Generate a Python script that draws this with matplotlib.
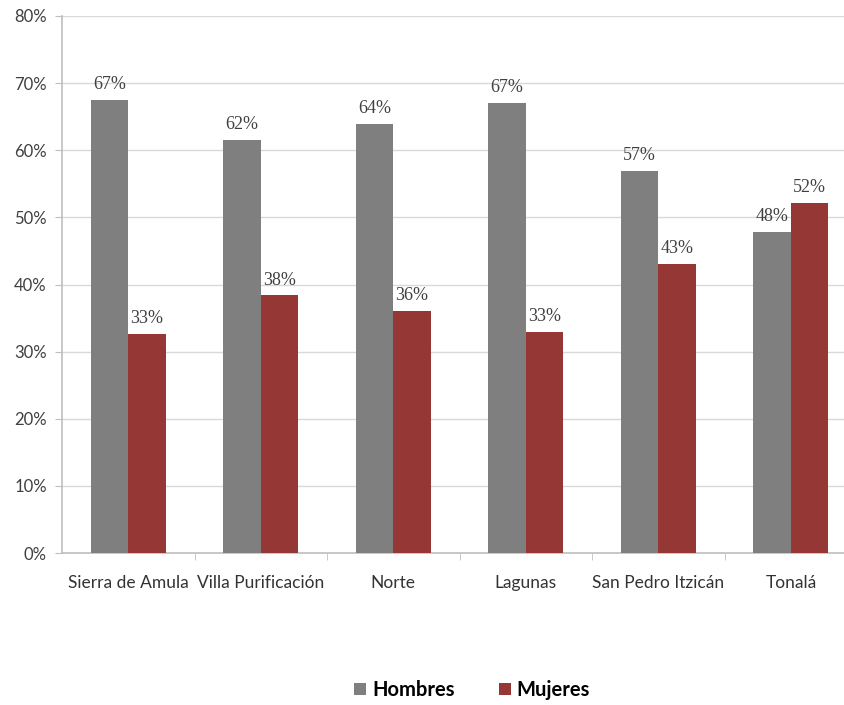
import numpy as np
import matplotlib
matplotlib.use('agg')
import matplotlib.pyplot as plt
from matplotlib.ticker import FuncFormatter

categories = ['Sierra de Amula', 'Villa Purificación', 'Norte', 'Lagunas', 'San Pedro Itzicán', 'Tonalá']
hombres = [67.5, 61.5, 63.9, 67.1, 56.9, 47.8]
mujeres = [32.6, 38.4, 36.1, 32.9, 43.1, 52.2]
hombres_lbl = ['67%', '62%', '64%', '67%', '57%', '48%']
mujeres_lbl = ['33%', '38%', '36%', '33%', '43%', '52%']

gray = '#7f7f7f'
red = '#953735'

fig = plt.figure(figsize=(8.44, 7.05), dpi=100)
ax = fig.add_axes([62/844, (705-553)/705, (844-62)/844, (553-16)/705])

x = np.arange(len(categories))
w = 0.283
b1 = ax.bar(x - w/2, hombres, w, color=gray, label='Hombres', zorder=3)
b2 = ax.bar(x + w/2, mujeres, w, color=red, label='Mujeres', zorder=3)

for bars, lbls in [(b1, hombres_lbl), (b2, mujeres_lbl)]:
    for b, s in zip(bars, lbls):
        ax.text(b.get_x() + b.get_width()/2, b.get_height() + 1.0, s, ha='center', va='bottom',
                fontsize=13, family='Liberation Serif', color='#404040', zorder=4)

ax.set_ylim(0, 80)
ax.set_yticks(np.arange(0, 81, 10))
ax.yaxis.set_major_formatter(FuncFormatter(lambda v, p: f'{int(v)}%'))
ax.set_xlim(-0.5, 5.4)
ax.set_xticks(x)
ax.set_xticklabels(categories)
ax.set_xticks(np.arange(0.5, 5.5, 1), minor=True)
ax.tick_params(axis='x', which='major', length=0, pad=16, labelsize=12.5, labelcolor='#333333')
ax.tick_params(axis='x', which='minor', length=5, color='#bfbfbf', direction='out')
ax.tick_params(axis='y', length=5, color='#bfbfbf', labelsize=12, labelcolor='#404040', pad=6)
for lbl in ax.get_xticklabels() + ax.get_yticklabels():
    lbl.set_family('Lato')

ax.grid(axis='y', color='#d9d9d9', linewidth=1, zorder=0)
for s in ['top', 'right']:
    ax.spines[s].set_visible(False)
ax.spines['left'].set_color('#bfbfbf')
ax.spines['bottom'].set_color('#bfbfbf')
ax.spines['left'].set_linewidth(1.2)
ax.spines['bottom'].set_linewidth(1.2)

fig.legend(handles=[b1, b2], loc='center', bbox_to_anchor=(472/844, 1 - 690/705), ncol=2,
           frameon=False, handlelength=0.6, handleheight=0.6, columnspacing=2.2, handletextpad=0.3,
           prop={'family': 'Lato', 'weight': 'bold', 'size': 14.5})

fig.savefig('out.png', dpi=100)
